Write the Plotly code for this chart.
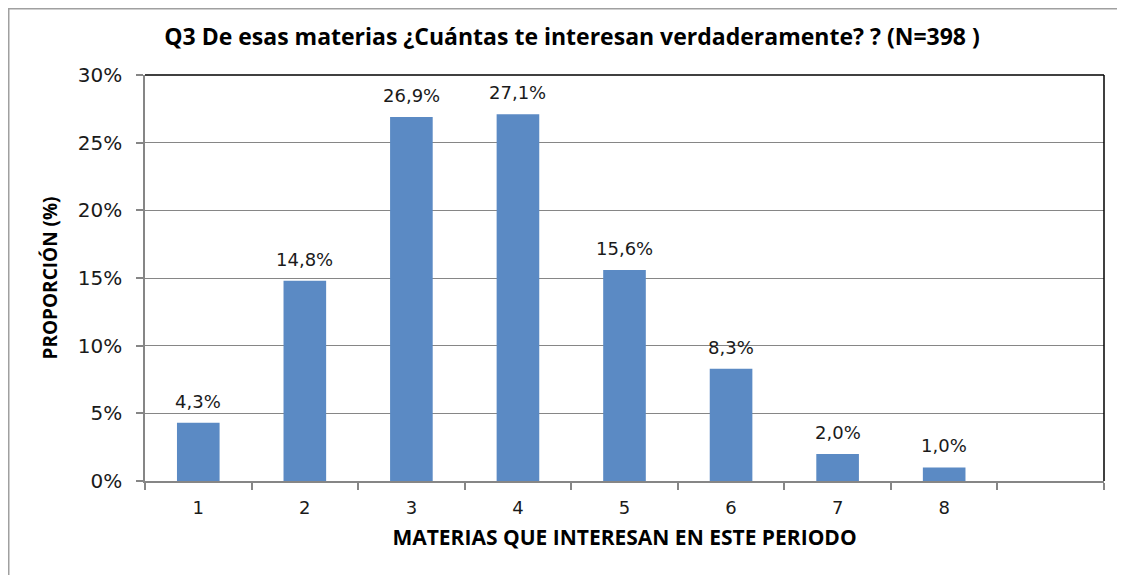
import plotly.graph_objects as go

categories = [1, 2, 3, 4, 5, 6, 7, 8]
tick_labels = ["1", "2", "3", "4", "5", "6", "7", "8"]
values = [4.3, 14.8, 26.9, 27.1, 15.6, 8.3, 2.0, 1.0]
y_ticks = [0, 5, 10, 15, 20, 25, 30]
y_tick_labels = ["0%", "5%", "10%", "15%", "20%", "25%", "30%"]

title_text = "Q3 De esas materias ¿Cuántas te interesan verdaderamente? ? (N=398 )"
x_title = "MATERIAS QUE INTERESAN EN ESTE PERIODO"
y_title = "PROPORCIÓN (%)"

# page body adds an 8px offset; figure is sized to fit the window
OFF = 8
W, H = 1125 - OFF, 575 - OFF
L, R, T, B = 145 - OFF, W - (1104 - OFF), 75 - OFF, H - (481 - OFF)
PW, PH = W - L - R, H - T - B


def fx(px):  # figure px -> paper
    return (px - L) / PW


def fy(py):
    return (H - B - py) / PH


labels = [f"{v:.1f}%".replace(".", ",") for v in values]

fig = go.Figure()
fig.add_trace(go.Bar(
    x=categories, y=values, width=0.4,
    marker=dict(color="#5B8AC4", line=dict(width=0)),
    hoverinfo="skip",
))

annotations = [
    dict(x=c, y=v, xref="x", yref="y", text=t, showarrow=False,
         yanchor="bottom", xanchor="center", yshift=9,
         font=dict(family="DejaVu Sans", size=18, color="#1a1a1a"))
    for c, v, t in zip(categories, values, labels)
]

fig.update_layout(
    width=W, height=H,
    margin=dict(l=L, r=R, t=T, b=B),
    paper_bgcolor="white", plot_bgcolor="white",
    showlegend=False,
    title=dict(text=f"<b>{title_text}</b>", x=(572 - OFF) / W, xref="container",
               y=1 - (37 - OFF) / H, yref="container", yanchor="middle", xanchor="center",
               font=dict(family="Open Sans", size=23, color="#000")),
    xaxis=dict(
        range=[0.5, 9.5], tickvals=categories, ticktext=tick_labels,
        ticks="outside", ticklen=10, tickcolor="rgba(0,0,0,0)",
        tickfont=dict(family="DejaVu Sans", size=18, color="#1a1a1a"),
        showline=True, linecolor="#868686", linewidth=1.5,
        showgrid=False, zeroline=False,
        minor=dict(tickvals=[c - 0.5 for c in categories] + [8.5, 9.5],
                   ticks="outside", ticklen=7, tickcolor="#868686", tickwidth=1.5,
                   showgrid=False),
        title=dict(text=f"<b>{x_title}</b>", standoff=13,
                   font=dict(family="Open Sans", size=21, color="#000")),
    ),
    yaxis=dict(
        range=[0, 30], tickvals=y_ticks, ticktext=y_tick_labels,
        ticks="outside", ticklen=7, tickcolor="#868686", tickwidth=1.5,
        ticklabelstandoff=10,
        tickfont=dict(family="DejaVu Sans", size=20, color="#1a1a1a"),
        showline=True, linecolor="#868686", linewidth=1.5,
        showgrid=True, gridcolor="#868686", gridwidth=1,
        zeroline=False,
        title=dict(text=f"<b>{y_title}</b>", standoff=15,
                   font=dict(family="Open Sans", size=19, color="#000")),
    ),
    annotations=annotations,
    shapes=[
        dict(type="line", xref="paper", yref="paper", x0=0, x1=1, y0=1, y1=1,
             line=dict(color="#000", width=1.5)),
        dict(type="line", xref="paper", yref="paper", x0=1, x1=1, y0=0, y1=1,
             line=dict(color="#000", width=1.5)),
        dict(type="rect", xref="paper", yref="paper",
             x0=fx(0), x1=fx(W + 20), y0=fy(H + 20), y1=fy(0),
             line=dict(color="#a0a0a0", width=3), fillcolor="rgba(0,0,0,0)",
             layer="below"),
    ],
)

fig.write_html("out.html")
